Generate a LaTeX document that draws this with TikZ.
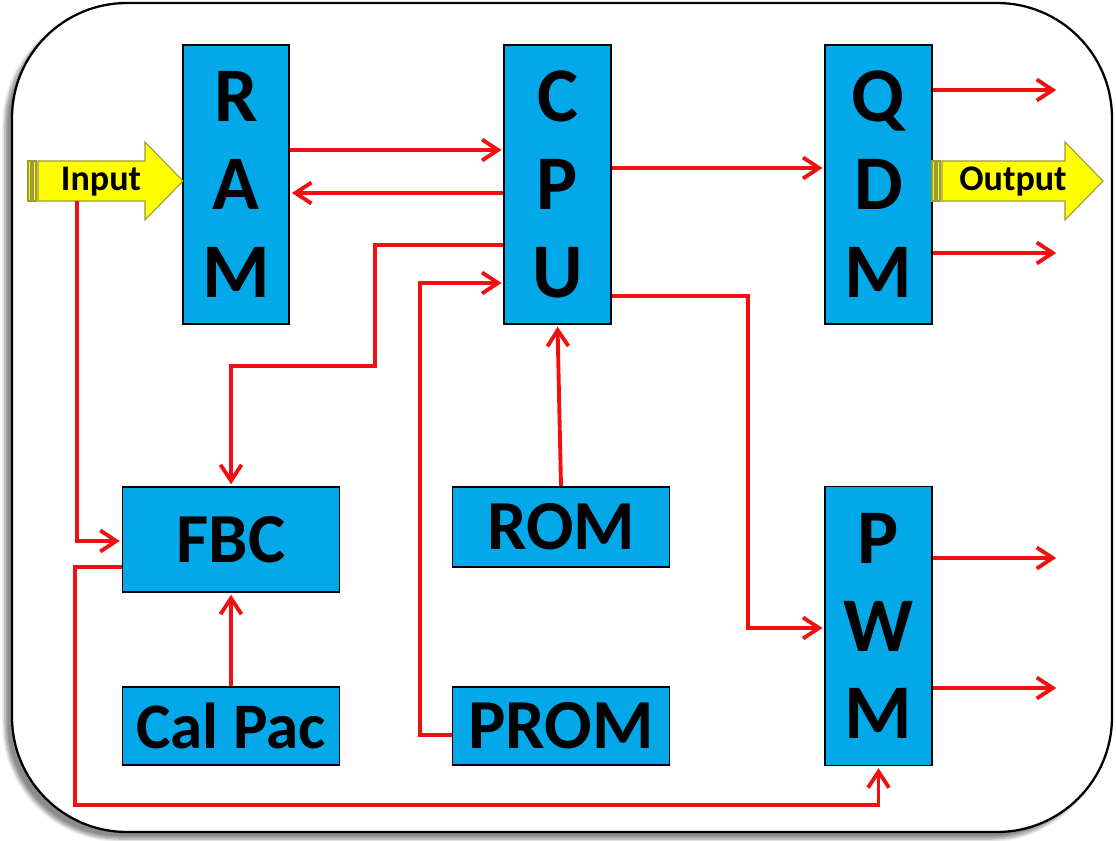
\documentclass[tikz,border=0pt]{standalone}
\usepackage{fontspec}
\setmainfont{Carlito}
\usepackage{tikz}
\usetikzlibrary{arrows.meta,shadows.blur}
\definecolor{blockfill}{HTML}{02A8E8}
\definecolor{wirered}{HTML}{F01010}
\definecolor{arrowfill}{HTML}{FFFF00}
\definecolor{arrowline}{HTML}{9A9A3A}

\begin{document}
\begin{tikzpicture}[
  x=0.02cm, y=-0.02cm,
  font=\bfseries,
  tall/.style={draw=black, line width=1.1pt, fill=blockfill, inner sep=0pt, minimum width=2.13cm, minimum height=5.58cm, align=center, font=\fontsize{44}{50}\selectfont\bfseries},
  wide/.style={draw=black, line width=1.1pt, fill=blockfill, inner sep=0pt, minimum width=4.34cm, font=\fontsize{40}{46}\selectfont\bfseries},
  wire/.style={-{Straight Barb[length=3.2mm, width=4.2mm]}, line width=2.2pt, draw=wirered, shorten >=1pt},
  bigarrow/.style={draw=arrowline, line width=0.6pt, fill=arrowfill},
  tag/.style={font=\fontsize{20.5}{24}\selectfont\bfseries, inner sep=0pt},
  frame/.style={draw=black, line width=1.3pt, fill=white, rounded corners=2.3cm, blur shadow={shadow xshift=-4pt, shadow yshift=-4pt, shadow blur steps=6, shadow opacity=45}}
]
  \useasboundingbox (0,0) rectangle (1116,841);
  \path[frame] (12,3) rectangle (1112,832);

  % blocks
  \node[tall] (ram) at (236,184.5) {R\\A\\M};
  \node[tall] (cpu) at (557.5,184.5) {C\\P\\U};
  \node[tall] (qdm) at (878.5,184.5) {Q\\D\\M};
  \node[tall] (pwm) at (878.5,626) {P\\W\\M};
  \node[wide, minimum height=2.1cm] (fbc) at (231,539.5) {FBC};
  \node[wide, minimum height=1.6cm] (rom) at (561,527) {ROM};
  \node[wide, minimum height=1.56cm, font=\fontsize{37}{44}\selectfont\bfseries] (calpac) at (231,726) {Cal Pac};
  \node[wide, minimum height=1.56cm] (prom) at (561,726) {PROM};

  % input and output arrows
  \draw[bigarrow] (28,161) rectangle (31,201);
  \draw[bigarrow] (33,161) rectangle (36,201);
  \draw[bigarrow] (38,161) -- (145,161) -- (145,142) -- (183,181) -- (145,220) -- (145,201) -- (38,201) -- cycle;
  \node[tag] (input) at (101,182) {Input};
  \draw[bigarrow] (932,161) rectangle (935,201);
  \draw[bigarrow] (937,161) rectangle (940,201);
  \draw[bigarrow] (942,161) -- (1065,161) -- (1065,142) -- (1103,181) -- (1065,220) -- (1065,201) -- (942,201) -- cycle;
  \node[tag] (output) at (1013,182) {Output};

  \coordinate (intap) at (77,201);
  \coordinate (q1) at (1058,90);
  \coordinate (q2) at (1058,253);
  \coordinate (p1) at (1058,558);
  \coordinate (p2) at (1058,688);

  % wires
  \draw[wire] (ram.east |- 0,150) -- (cpu.west |- 0,150);
  \draw[wire] (cpu.west |- 0,193) -- (ram.east |- 0,193);
  \draw[wire] (cpu.east |- 0,168) -- (qdm.west |- 0,168);
  \draw[wire] (qdm.east |- q1) -- (q1);
  \draw[wire] (qdm.east |- q2) -- (q2);
  \draw[wire] (pwm.east |- p1) -- (p1);
  \draw[wire] (pwm.east |- p2) -- (p2);
  \draw[wire] (cpu.west |- 0,245) -| (375,366) -| (fbc.north);
  \draw[wire] (prom.west |- 0,735) -| (420,283) -- (cpu.west |- 0,283);
  \draw[wire] (rom.north) -- (cpu.south);
  \draw[wire] (cpu.east |- 0,296) -| (748,628) -- (pwm.west |- 0,628);
  \draw[wire] (intap) |- (fbc.west |- 0,541);
  \draw[wire] (fbc.west |- 0,567) -| (75,805) -| (pwm.south);
  \draw[wire] (calpac.north) -- (fbc.south);
\end{tikzpicture}
\end{document}
